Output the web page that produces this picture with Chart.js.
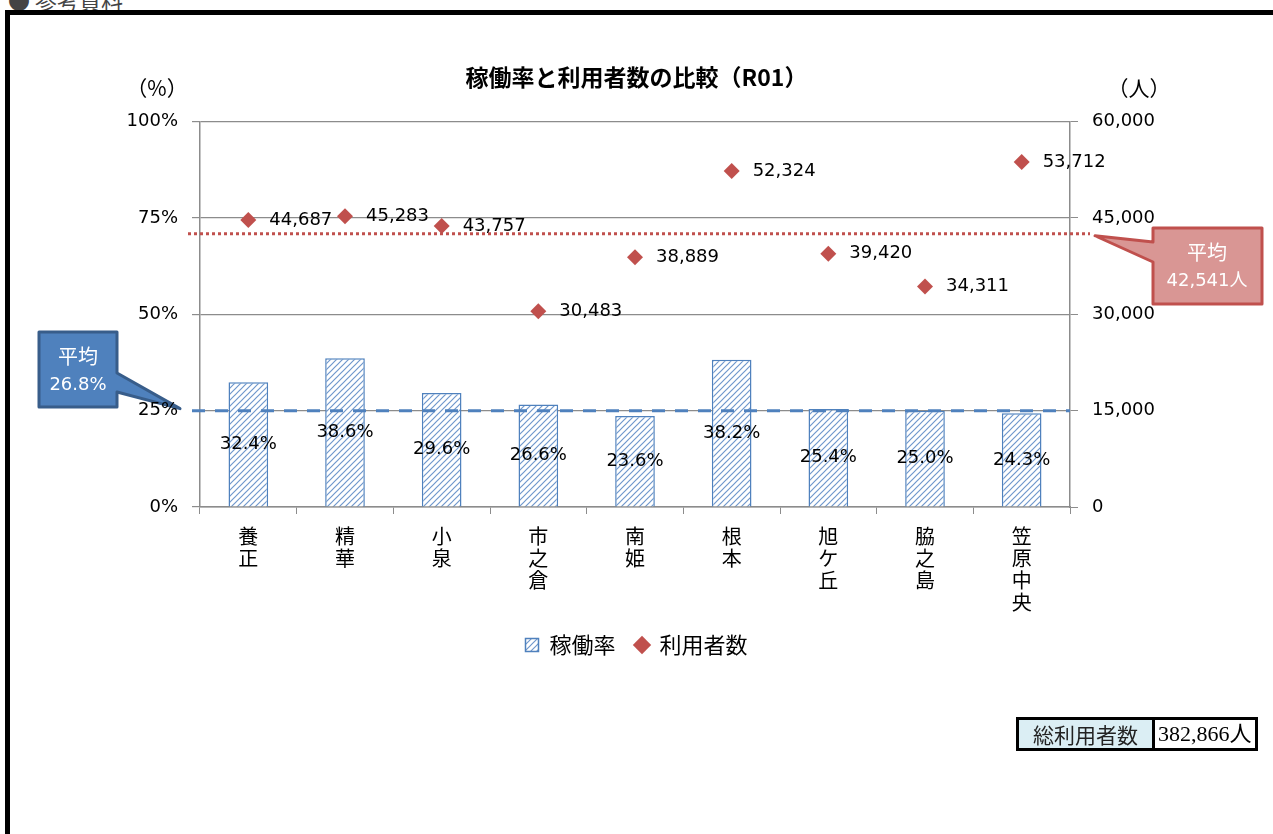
<!DOCTYPE html>
<html>
<head>
<meta charset="utf-8">
<script src="https://cdn.jsdelivr.net/npm/chart.js@4.4.0/dist/chart.umd.min.js"></script>
<style>
body { margin: 0; background: #fff; overflow: hidden; font-family: "Noto Sans CJK JP", sans-serif; }
#wrap { position: relative; width: 1273px; height: 834px; }
#head { position: absolute; left: 8px; top: -17px; font-size: 22px; color: #444; }
#frame { position: absolute; left: 5px; top: 10px; width: 1300px; height: 900px; border-top: 5px solid #000; border-left: 5px solid #000; }
#c { position: absolute; left: 0; top: 0; }
#total { position: absolute; left: 1016px; top: 717px; border-collapse: collapse; font-size: 21px; }
#total td { border: 3px solid #000; height: 28px; padding: 0 3px; line-height: 28px; }
#total td.k { background: #dbeef4; width: 127px; text-align: center; color: #222; }
#total td.v { font-family: "Liberation Serif", "Noto Sans CJK JP", serif; font-size: 22px; width: 94px; }
</style>
</head>
<body>
<div id="wrap">
  <div id="head">● 参考資料</div>
  <div id="frame"></div>
  <canvas id="c" width="1273" height="834"></canvas>
  <table id="total"><tr><td class="k">総利用者数</td><td class="v">382,866人</td></tr></table>
</div>
<script>
var categories = [["養", "正"], ["精", "華"], ["小", "泉"], ["市", "之", "倉"], ["南", "姫"], ["根", "本"], ["旭", "ケ", "丘"], ["脇", "之", "島"], ["笠", "原", "中", "央"]];
var rates = [32.4, 38.6, 29.6, 26.6, 23.6, 38.2, 25.4, 25.0, 24.3];
var users = [44687, 45283, 43757, 30483, 38889, 52324, 39420, 34311, 53712];
var avgRateText = "26.8%";
var avgRateLine = 25;      // where the dashed line sits in the picture
var avgUsers = 42541;

var jp = '"Noto Sans CJK JP", sans-serif';
var num = '"DejaVu Sans", "Noto Sans CJK JP", sans-serif';
var grey = "#8c8c8c";

function makeHatch(ctx) {
    var c = document.createElement("canvas");
    c.width = 6; c.height = 6;
    var g = c.getContext("2d");
    g.fillStyle = "#fff";
    g.fillRect(0, 0, 6, 6);
    g.strokeStyle = "#6f97cc";
    g.lineWidth = 1.2;
    g.beginPath();
    g.moveTo(0, 6); g.lineTo(6, 0);
    g.moveTo(-1, 1); g.lineTo(1, -1);
    g.moveTo(5, 7); g.lineTo(7, 5);
    g.stroke();
    return ctx.createPattern(c, "repeat");
}

function callout(ctx, pts, fill, stroke, lines, cx, cy) {
    ctx.beginPath();
    ctx.moveTo(pts[0][0], pts[0][1]);
    for (var i = 1; i < pts.length; i++) ctx.lineTo(pts[i][0], pts[i][1]);
    ctx.closePath();
    ctx.fillStyle = fill;
    ctx.fill();
    ctx.lineWidth = 3;
    ctx.lineJoin = "round";
    ctx.strokeStyle = stroke;
    ctx.stroke();
    ctx.fillStyle = "#fff";
    ctx.textAlign = "center";
    ctx.textBaseline = "middle";
    ctx.font = "20px " + jp;
    ctx.fillText(lines[0], cx, cy[0]);
    ctx.font = "18px " + num;
    ctx.fillText(lines[1], cx, cy[1]);
}

var overlay = {
    id: "overlay",
    // callouts go under the tick labels, as in the reference
    beforeDraw: function (chart) {
        var ctx = chart.ctx, area = chart.chartArea;
        var by = chart.scales.y.getPixelForValue(avgRateLine);
        var ry = chart.scales.y2.getPixelForValue(avgUsers);
        ctx.save();
        var tx = area.left - 20;
        callout(ctx, [[39, 332], [117, 332], [117, 373], [tx, by - 2], [117, 392], [117, 407], [39, 407]],
            "#4f81bd", "#385d8a", ["平均", avgRateText], 78, [356, 385]);
        var rx = area.right + 25;
        callout(ctx, [[1153, 228], [1262, 228], [1262, 304], [1153, 304], [1153, 262], [rx, ry + 2], [1153, 242]],
            "#d99694", "#c0504d", ["平均", avgUsers.toLocaleString("en-US") + "人"], 1207, [252, 281]);
        ctx.fillStyle = "#000";
        ctx.font = "21px " + jp;
        ctx.textAlign = "center";
        ctx.textBaseline = "middle";
        ctx.fillText("（%）", 157, 88);
        ctx.fillText("（人）", 1139, 88);
        ctx.restore();
    },
    afterDatasetsDraw: function (chart) {
        var ctx = chart.ctx, area = chart.chartArea;
        var by = chart.scales.y.getPixelForValue(avgRateLine);
        var ry = chart.scales.y2.getPixelForValue(avgUsers);
        ctx.save();
        ctx.lineWidth = 3;
        ctx.strokeStyle = "#4f81bd";
        ctx.setLineDash([13, 10]);
        ctx.beginPath(); ctx.moveTo(area.left - 8, by); ctx.lineTo(area.right, by); ctx.stroke();
        ctx.strokeStyle = "#c0504d";
        ctx.setLineDash([3, 3]);
        ctx.beginPath(); ctx.moveTo(area.left - 12, ry); ctx.lineTo(area.right + 20, ry); ctx.stroke();
        ctx.setLineDash([]);

        ctx.fillStyle = "#000";
        ctx.font = "18px " + num;
        ctx.textBaseline = "middle";
        ctx.textAlign = "center";
        chart.getDatasetMeta(0).data.forEach(function (bar, i) {
            ctx.fillText(rates[i].toFixed(1) + "%", bar.x, (bar.y + bar.base) / 2);
        });
        ctx.textAlign = "left";
        chart.getDatasetMeta(1).data.forEach(function (pt, i) {
            ctx.fillText(users[i].toLocaleString("en-US"), pt.x + 21, pt.y);
        });
        ctx.restore();
    }
};

var ctx = document.getElementById("c").getContext("2d");
var hatch = makeHatch(ctx);

var data = {
    labels: categories,
    datasets: [
        {
            type: "bar",
            label: "稼働率",
            data: rates,
            yAxisID: "y",
            backgroundColor: hatch,
            borderColor: "#4f81bd",
            borderWidth: 1.5,
            barPercentage: 0.41,
            categoryPercentage: 1,
            pointStyle: "rect"
        },
        {
            type: "line",
            label: "利用者数",
            data: users,
            yAxisID: "y2",
            showLine: false,
            pointStyle: "rectRot",
            pointRadius: 8,
            pointHoverRadius: 8,
            backgroundColor: "#c0504d",
            borderColor: "#c0504d",
            pointBorderWidth: 0
        }
    ]
};

var options = {
    responsive: false,
    animation: false,
    layout: { padding: { top: 0, bottom: 168, left: 0, right: 0 } },
    scales: {
        x: {
            offset: true,
            grid: { offset: true, drawOnChartArea: false, tickLength: 7, color: grey },
            border: { color: grey, width: 1.5 },
            ticks: { color: "#000", font: { family: jp, size: 20, lineHeight: 1.1 }, padding: 11, maxRotation: 0, autoSkip: false },
            afterFit: function (s) { s.height = 107; }
        },
        y: {
            position: "left",
            min: 0, max: 100,
            ticks: { stepSize: 25, color: "#000", font: { family: num, size: 18 }, padding: 14,
                callback: function (v) { return v + "%"; } },
            grid: { color: grey, lineWidth: 1.2, tickLength: 8 },
            border: { color: grey, width: 1.5 },
            afterFit: function (s) { s.width = 200; }
        },
        y2: {
            position: "right",
            min: 0, max: 60000,
            ticks: { stepSize: 15000, color: "#000", font: { family: num, size: 18 }, padding: 14,
                callback: function (v) { return v.toLocaleString("en-US"); } },
            grid: { drawOnChartArea: false, color: grey, tickLength: 8 },
            border: { color: grey, width: 1.5 },
            afterFit: function (s) { s.width = 203; }
        }
    },
    plugins: {
        title: {
            display: true,
            text: "稼働率と利用者数の比較（R01）",
            color: "#000",
            font: { family: jp, size: 23, weight: "bold" },
            padding: { top: 63, bottom: 31 }
        },
        legend: {
            display: true,
            position: "bottom",
            labels: {
                usePointStyle: true,
                boxHeight: 13,
                boxWidth: 13,
                padding: 20,
                color: "#000",
                font: { family: jp, size: 22 }
            }
        },
        tooltip: { enabled: false }
    }
};

var chart = new Chart(ctx, {
    type: "bar",
    data: data,
    options: options,
    plugins: [overlay]
});
</script>
</body>
</html>
